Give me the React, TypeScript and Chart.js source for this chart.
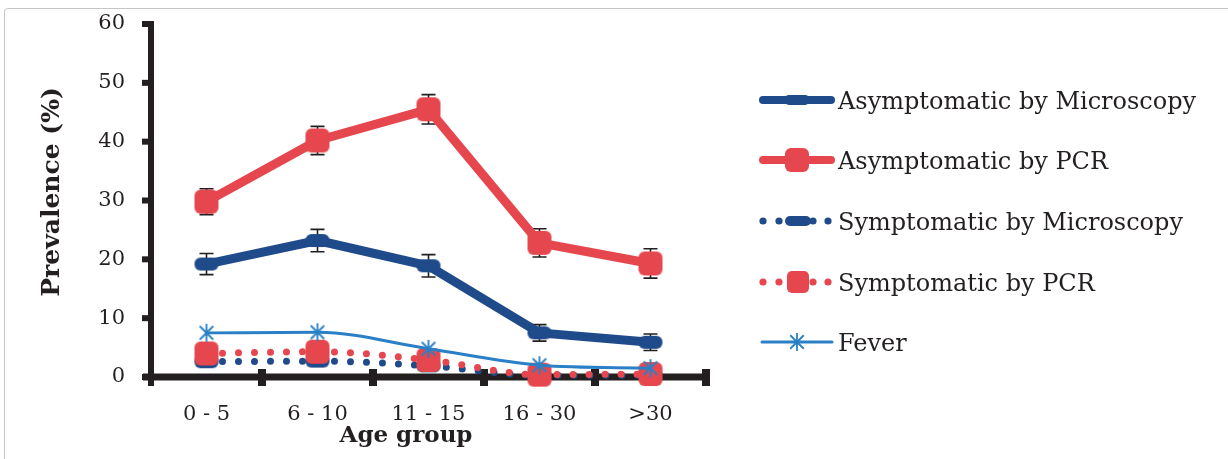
import React, { useEffect, useRef } from "react";
import { Chart, registerables } from "chart.js";

Chart.register(...registerables);

const categories = ["0 - 5", "6 - 10", "11 - 15", "16 - 30", ">30"];
const asymMicro = [19.2, 23.2, 18.9, 7.5, 5.9];
const asymMicroErr = [1.8, 1.9, 1.9, 1.4, 1.4];
const asymPCR = [29.8, 40.2, 45.5, 22.8, 19.3];
const asymPCRErr = [2.2, 2.4, 2.5, 2.4, 2.5];
const symMicro = [2.6, 2.7, 1.9, 0.3, 0.3];
const symPCR = [4.0, 4.3, 2.9, 0.4, 0.5];
const fever = [7.5, 7.6, 4.8, 2.0, 1.5];
const seriesNames = [
  "Asymptomatic by Microscopy",
  "Asymptomatic by PCR",
  "Symptomatic by Microscopy",
  "Symptomatic by PCR",
  "Fever",
];
const yAxisTitle = "Prevalence (%)";
const xAxisTitle = "Age group";

const BLUE = "#1f4b8a";
const RED = "#e6474f";
const FEVER = "#2a80c6";
const INK = "#231f20";
const SERIF = "'DejaVu Serif', serif";

function makeRoundRect(w: number, h: number, r: number, color: string) {
  const c = document.createElement("canvas");
  c.width = w + 2;
  c.height = h + 2;
  const g = c.getContext("2d")!;
  g.fillStyle = color;
  g.beginPath();
  (g as any).roundRect(1, 1, w, h, r);
  g.fill();
  return c;
}

function makeStar(size: number, color: string) {
  const c = document.createElement("canvas");
  c.width = size + 2;
  c.height = size + 2;
  const g = c.getContext("2d")!;
  const m = (size + 2) / 2;
  const r = size / 2;
  g.strokeStyle = color;
  g.lineWidth = 1.8;
  g.beginPath();
  g.moveTo(m, m - r);
  g.lineTo(m, m + r);
  const d = r * 0.75;
  g.moveTo(m - d, m - d);
  g.lineTo(m + d, m + d);
  g.moveTo(m + d, m - d);
  g.lineTo(m - d, m + d);
  g.stroke();
  return c;
}

export default function App() {
  const ref = useRef<HTMLCanvasElement | null>(null);

  useEffect(() => {
    if (!ref.current) return;
    const bluePill = makeRoundRect(24, 13, 6, BLUE);
    const blueLegendPill = makeRoundRect(26, 10, 5, BLUE);
    const redSquare = makeRoundRect(24, 24, 6, RED);
    const redLegendSquare = makeRoundRect(22, 22, 5, RED);
    const star = makeStar(18, FEVER);

    const errorBars = {
      id: "errorBars",
      beforeDatasetsDraw(chart: any) {
        const { ctx, scales } = chart;
        const x = scales.x;
        const y = scales.y;
        const sets: [number[], number[]][] = [
          [asymMicro, asymMicroErr],
          [asymPCR, asymPCRErr],
        ];
        ctx.save();
        ctx.strokeStyle = INK;
        ctx.lineWidth = 1.6;
        for (const [vals, errs] of sets) {
          vals.forEach((v, i) => {
            const px = x.getPixelForValue(i);
            const t = y.getPixelForValue(v + errs[i]);
            const b = y.getPixelForValue(v - errs[i]);
            ctx.beginPath();
            ctx.moveTo(px, t);
            ctx.lineTo(px, b);
            ctx.moveTo(px - 7, t);
            ctx.lineTo(px + 7, t);
            ctx.moveTo(px - 7, b);
            ctx.lineTo(px + 7, b);
            ctx.stroke();
          });
        }
        ctx.restore();
      },
    };

    const axesAndLegend = {
      id: "axesAndLegend",
      beforeDatasetsDraw(chart: any) {
        const { ctx, chartArea, scales } = chart;
        const x = scales.x;
        const y = scales.y;
        const L = chartArea.left;
        const B = chartArea.bottom;
        ctx.save();
        ctx.fillStyle = INK;
        ctx.fillRect(L - 3, chartArea.top - 3, 6, B - chartArea.top + 12);
        ctx.fillRect(L - 8, B - 3.5, chartArea.right - L + 11, 7);
        y.ticks.forEach((t: any) => {
          const py = y.getPixelForValue(t.value);
          ctx.fillRect(L - 9, py - 3, 8, 6);
        });
        for (let i = 1; i <= categories.length; i++) {
          const bx = x.getPixelForValue(i - 0.5);
          ctx.fillRect(bx - 4, B - 8, 8, 17);
        }
        ctx.restore();
      },
      afterDraw(chart: any) {
        const { ctx } = chart;
        ctx.save();
        ctx.fillStyle = INK;
        ctx.textAlign = "center";
        ctx.textBaseline = "middle";
        ctx.save();
        ctx.font = `bold 25px ${SERIF}`;
        ctx.translate(52, 192);
        ctx.rotate(-Math.PI / 2);
        ctx.fillText(yAxisTitle, 0, 0);
        ctx.restore();
        ctx.font = `bold 23px ${SERIF}`;
        ctx.fillText(xAxisTitle, 406, 436);

        const rows = [100, 160, 221, 282, 342];
        const x0 = 760;
        const x1 = 834;
        const cx = 797;
        rows.forEach((ry, i) => {
          ctx.save();
          ctx.lineCap = "round";
          if (i === 0 || i === 1) {
            ctx.strokeStyle = i === 0 ? BLUE : RED;
            ctx.lineWidth = 8;
            ctx.beginPath();
            ctx.moveTo(x0 + 3, ry);
            ctx.lineTo(x1 - 3, ry);
            ctx.stroke();
            const img = i === 0 ? blueLegendPill : redSquare;
            ctx.drawImage(img, cx - img.width / 2, ry - img.height / 2);
          } else if (i === 2 || i === 3) {
            ctx.fillStyle = i === 2 ? BLUE : RED;
            [763, 779, 813, 828].forEach((dx) => {
              ctx.beginPath();
              ctx.arc(dx, ry, 3.6, 0, Math.PI * 2);
              ctx.fill();
            });
            const img = i === 2 ? blueLegendPill : redLegendSquare;
            ctx.drawImage(img, cx + 1 - img.width / 2, ry - img.height / 2);
          } else {
            ctx.strokeStyle = FEVER;
            ctx.lineWidth = 3;
            ctx.beginPath();
            ctx.moveTo(x0 + 2, ry);
            ctx.lineTo(x1 - 2, ry);
            ctx.stroke();
            ctx.drawImage(star, cx - star.width / 2, ry - star.height / 2);
          }
          ctx.restore();
          ctx.fillStyle = INK;
          ctx.font = `24px ${SERIF}`;
          ctx.textAlign = "left";
          ctx.textBaseline = "alphabetic";
          ctx.fillText(seriesNames[i], 838, ry + 9);
        });
        ctx.restore();
      },
    };

    const common = {
      clip: false as any,
      borderJoinStyle: "round" as const,
      borderCapStyle: "round" as const,
      pointRadius: 12,
      pointHoverRadius: 12,
    };

    const chart = new Chart(ref.current, {
      type: "line",
      data: {
        labels: categories,
        datasets: [
          {
            ...common,
            label: seriesNames[0],
            data: asymMicro,
            borderColor: BLUE,
            backgroundColor: BLUE,
            borderWidth: 9,
            pointStyle: bluePill as any,
            order: 4,
          },
          {
            ...common,
            label: seriesNames[1],
            data: asymPCR,
            borderColor: RED,
            backgroundColor: RED,
            borderWidth: 9,
            pointStyle: redSquare as any,
            order: 3,
          },
          {
            ...common,
            label: seriesNames[2],
            data: symMicro,
            borderColor: BLUE,
            backgroundColor: BLUE,
            borderWidth: 7,
            borderDash: [0, 16],
            cubicInterpolationMode: "monotone",
            pointStyle: bluePill as any,
            order: 2,
          },
          {
            ...common,
            label: seriesNames[3],
            data: symPCR,
            borderColor: RED,
            backgroundColor: RED,
            borderWidth: 7,
            borderDash: [0, 16],
            cubicInterpolationMode: "monotone",
            pointStyle: redSquare as any,
            order: 1,
          },
          {
            ...common,
            label: seriesNames[4],
            data: fever,
            borderColor: FEVER,
            backgroundColor: FEVER,
            borderWidth: 3,
            cubicInterpolationMode: "monotone",
            pointStyle: star as any,
            order: 0,
          },
        ],
      },
      options: {
        animation: false,
        responsive: false,
        events: [],
        layout: { padding: { top: 24, right: 522, left: 0, bottom: 0 } },
        plugins: {
          legend: { display: false },
          tooltip: { enabled: false },
        },
        scales: {
          x: {
            type: "category",
            offset: true,
            grid: { display: false, drawTicks: false },
            border: { display: false },
            ticks: {
              color: INK,
              padding: 25,
              font: { family: SERIF, size: 21 },
              maxRotation: 0,
            },
            afterFit(scale: any) {
              scale.height = 82;
              scale.paddingLeft = 0;
              scale.paddingRight = 0;
            },
          },
          y: {
            min: 0,
            max: 60,
            grid: { display: false, drawTicks: false },
            border: { display: false },
            ticks: {
              stepSize: 10,
              color: INK,
              padding: 26,
              font: { family: SERIF, size: 21 },
            },
            afterFit(scale: any) {
              scale.width = 151;
              scale.paddingTop = 0;
              scale.paddingBottom = 0;
            },
          },
        },
      },
      plugins: [axesAndLegend, errorBars],
    });
    return () => chart.destroy();
  }, []);

  return (
    <div
      style={{
        position: "fixed",
        left: 0,
        top: 0,
        width: 1228,
        height: 459,
        overflow: "hidden",
        background: "#fff",
      }}
    >
      <div
        style={{
          position: "absolute",
          left: 4,
          top: 8,
          width: 1300,
          height: 500,
          border: "1.5px solid #c6c6c6",
          borderRadius: 4,
        }}
      />
      <canvas
        ref={ref}
        width={1228}
        height={459}
        style={{ position: "absolute", left: 0, top: 0, width: 1228, height: 459 }}
      />
    </div>
  );
}
